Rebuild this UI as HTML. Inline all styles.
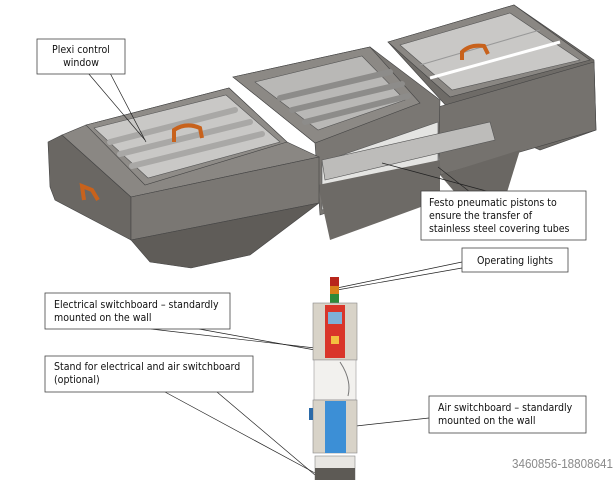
<!DOCTYPE html>
<html><head><style>
html,body{margin:0;padding:0;background:#fff}
svg{display:block}
text{font-family:"DejaVu Sans Condensed","Liberation Sans",sans-serif;font-size:10.5px;fill:#111}
</style></head><body>
<svg width="616" height="480" viewBox="0 0 616 480" xmlns="http://www.w3.org/2000/svg">
<rect width="616" height="480" fill="#fff"/>
<!-- right section -->
<polygon points="388,42 514,5 594,60 596,130 540,150 450,110" fill="#6e6b67" stroke="#444" stroke-width="0.6"/>
<polygon points="438,107 594,62 596,130 440,175" fill="#75726e" stroke="#444" stroke-width="0.6"/>
<polygon points="440,175 520,150 500,215 470,210" fill="#6a6763"/>
<polygon points="388,42 514,5 590,60 450,97" fill="#8a8783" stroke="#444" stroke-width="0.6"/>
<polygon points="400,45 510,13 580,60 452,90" fill="#c9c8c6" stroke="#555" stroke-width="0.6"/>
<line x1="420" y1="65" x2="540" y2="30" stroke="#999"/><line x1="430" y1="78" x2="560" y2="42" stroke="#fff" stroke-width="3"/>
<path d="M462 60 L462 52 Q470 44 484 46 L488 54" fill="none" stroke="#c8621c" stroke-width="4"/>
<!-- middle section -->
<polygon points="233,77 370,47 440,100 438,175 320,215 315,143" fill="#7a7773" stroke="#444" stroke-width="0.6"/>
<polygon points="233,77 370,47 420,103 315,143" fill="#8c8985" stroke="#444" stroke-width="0.6"/>
<polygon points="255,82 362,56 405,100 318,130" fill="#b9b8b6" stroke="#555" stroke-width="0.6"/>
<g stroke="#8d8c8a" stroke-width="6" stroke-linecap="round">
<line x1="280" y1="98" x2="390" y2="72"/><line x1="292" y1="110" x2="402" y2="84"/><line x1="305" y1="122" x2="408" y2="96"/>
</g>
<polygon points="322,162 438,122 438,170 322,210" fill="#e4e4e2" stroke="#555" stroke-width="0.6"/>
<polygon points="322,160 490,122 495,140 325,180" fill="#bdbcba" stroke="#555" stroke-width="0.6"/>
<polygon points="318,185 440,160 440,200 330,240" fill="#6d6a66"/>
<!-- left section -->
<polygon points="48,142 62,135 131,197 131,240 55,200 50,187" fill="#6a6763" stroke="#444" stroke-width="0.6"/>
<polygon points="62,135 86,125 229,88 287,142 319,157 131,197" fill="#8a8783" stroke="#444" stroke-width="0.6"/>
<polygon points="131,197 319,157 319,203 131,240" fill="#7a7773" stroke="#444" stroke-width="0.6"/>
<polygon points="131,240 319,203 250,255 191,268 150,262" fill="#5f5c58" stroke="#444" stroke-width="0.6"/>
<polygon points="86,125 229,88 287,142 145,185" fill="#8f8c88" stroke="#444" stroke-width="0.6"/>
<polygon points="94,128 226,95 280,142 148,178" fill="#c9c8c6" stroke="#555" stroke-width="0.6"/>
<g stroke="#a9a8a6" stroke-width="6" stroke-linecap="round">
<line x1="110" y1="142" x2="235" y2="110"/><line x1="120" y1="154" x2="250" y2="122"/><line x1="132" y1="166" x2="262" y2="134"/>
</g>
<path d="M174 142 L174 130 Q186 122 200 128 L202 138" fill="none" stroke="#c8621c" stroke-width="4"/>
<path d="M84 200 L82 186 L92 190 L98 200" fill="none" stroke="#c8621c" stroke-width="4"/>
<!-- callouts -->
<g stroke="#222" stroke-width="0.7" fill="none">
<line x1="88" y1="73" x2="145" y2="140"/><line x1="110" y1="73" x2="146" y2="142"/>
<line x1="490" y1="192" x2="382" y2="163"/><line x1="470" y1="192" x2="438" y2="167"/>
<line x1="462" y1="262" x2="337" y2="288"/><line x1="462" y1="268" x2="337" y2="290"/>
<line x1="151" y1="329" x2="315" y2="348"/><line x1="199" y1="329" x2="315" y2="350"/>
<line x1="165" y1="392" x2="315" y2="473"/><line x1="217" y1="392" x2="315" y2="475"/>
<line x1="429" y1="418" x2="347" y2="427"/>
</g>
<rect x="37" y="39" width="88" height="35" fill="#fff" stroke="#444" stroke-width="0.8"/>
<text x="81" y="53" text-anchor="middle">Plexi control</text><text x="81" y="66" text-anchor="middle">window</text>
<rect x="421" y="191" width="165" height="49" fill="#fff" stroke="#444" stroke-width="0.8"/>
<text x="429" y="206">Festo pneumatic pistons to</text><text x="429" y="219">ensure the transfer of</text><text x="429" y="232">stainless steel covering tubes</text>
<rect x="462" y="248" width="106" height="24" fill="#fff" stroke="#444" stroke-width="0.8"/>
<text x="515" y="264" text-anchor="middle">Operating lights</text>
<rect x="45" y="293" width="185" height="36" fill="#fff" stroke="#444" stroke-width="0.8"/>
<text x="54" y="308">Electrical switchboard – standardly</text><text x="54" y="321">mounted on the wall</text>
<rect x="45" y="356" width="208" height="36" fill="#fff" stroke="#444" stroke-width="0.8"/>
<text x="54" y="370">Stand for electrical and air switchboard</text><text x="54" y="383">(optional)</text>
<rect x="429" y="396" width="157" height="37" fill="#fff" stroke="#444" stroke-width="0.8"/>
<text x="438" y="411">Air switchboard – standardly</text><text x="438" y="424">mounted on the wall</text>
<!-- cabinet -->
<rect x="330" y="277" width="9" height="9" fill="#b8261c"/><rect x="330" y="286" width="9" height="8" fill="#d8801a"/><rect x="330" y="294" width="9" height="9" fill="#2e8a3a"/>
<rect x="313" y="303" width="44" height="57" fill="#d8d3c8" stroke="#888" stroke-width="0.6"/>
<rect x="325" y="305" width="20" height="53" fill="#d9352a"/>
<rect x="328" y="312" width="14" height="12" fill="#7fb0d8"/>
<rect x="331" y="336" width="8" height="8" fill="#f3c040"/>
<rect x="314" y="360" width="42" height="40" fill="#f2f1ee" stroke="#999" stroke-width="0.6"/>
<path d="M340 362 Q352 380 348 396" stroke="#777" fill="none"/>
<rect x="313" y="400" width="44" height="53" fill="#d8d3c8" stroke="#888" stroke-width="0.6"/>
<rect x="325" y="401" width="21" height="52" fill="#3c8fd6"/>
<rect x="309" y="408" width="4" height="12" fill="#2b6aa8"/>
<rect x="315" y="456" width="40" height="24" fill="#e8e6e2" stroke="#888" stroke-width="0.6"/>
<rect x="315" y="468" width="40" height="12" fill="#5d5a55"/>
<text x="512" y="468" textLength="101" lengthAdjust="spacingAndGlyphs" style="font-family:'Liberation Sans',sans-serif;font-size:13px;fill:#8a8a8a">3460856-18808641</text>
</svg>
</body></html>
